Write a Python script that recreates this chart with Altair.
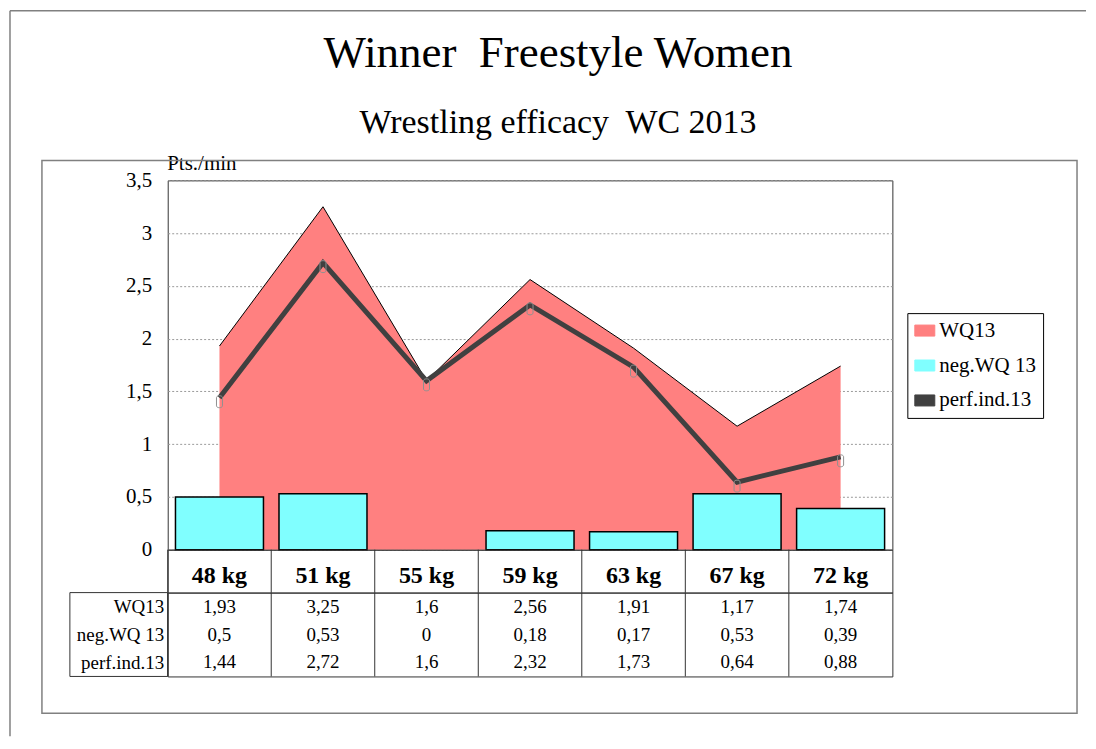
import altair as alt
import pandas as pd

# ---------------- data ----------------
categories = ["48 kg", "51 kg", "55 kg", "59 kg", "63 kg", "67 kg", "72 kg"]
wq13 = [1.93, 3.25, 1.6, 2.56, 1.91, 1.17, 1.74]
neg_wq13 = [0.5, 0.53, 0, 0.18, 0.17, 0.53, 0.39]
perf_ind13 = [1.44, 2.72, 1.6, 2.32, 1.73, 0.64, 0.88]
row_names = ["WQ13", "neg.WQ 13", "perf.ind.13"]
y_ticks = [0, 0.5, 1, 1.5, 2, 2.5, 3, 3.5]
series_colors = ["#FF8080", "#80FFFF", "#404040"]

FONT = "Liberation Serif"
LINE = "#333333"
W, H = 726, 370
HEAD_H, TAB_H = 43, 84

df = pd.DataFrame({"cat": categories, "wq": wq13, "neg": neg_wq13, "perf": perf_ind13})
table_df = pd.DataFrame({
    "row": [r for r in row_names for _ in categories],
    "cat": categories * 3,
    "value": wq13 + neg_wq13 + perf_ind13,
})
one = pd.DataFrame({"d": [0]})

xscale = alt.Scale(domain=categories, paddingInner=0, paddingOuter=0)
yscale = alt.Scale(domain=[0, 3.5], nice=False, zero=True)
color_scale = alt.Scale(domain=row_names, range=series_colors)

yaxis = alt.Axis(
    values=y_ticks,
    labelExpr="replace(toString(datum.value), '.', ',')",
    labelFont=FONT, labelFontSize=21, labelColor="black", labelPadding=16,
    ticks=False, domain=False,
    grid=True, gridColor="#9a9a9a", gridDash=[2, 2], gridWidth=1,
    titleAngle=0, titleAlign="left", titleBaseline="alphabetic",
    titleX=-1, titleY=-11, titleFont=FONT, titleFontSize=21,
    titleFontWeight="normal", titleColor="black",
)


def yenc(field):
    return alt.Y(field, type="quantitative", scale=yscale, axis=yaxis, title="Pts./min")


legend = alt.Legend(
    title=None, orient="none", legendX=741, legendY=133,
    labelFont=FONT, labelFontSize=21, labelColor="black", labelOffset=4,
    symbolType="M-1,-0.55H1V0.55H-1Z", symbolSize=400,
    symbolStrokeColor="black", symbolStrokeWidth=1, symbolOpacity=1,
    strokeColor="black", padding=7, rowPadding=13, fillColor="white",
)

color = alt.Color("series:N", scale=color_scale, legend=legend)
xenc = alt.X("cat:N", scale=xscale, sort=categories, axis=None)

# ---------------- decorations (frames) ----------------
outer_left = alt.Chart(one).mark_rule(color="#808080", strokeWidth=1.5).encode(
    x=alt.value(-158), x2=alt.value(-158), y=alt.value(-170), y2=alt.value(557))
outer_top = alt.Chart(one).mark_rule(color="#808080", strokeWidth=1.5).encode(
    x=alt.value(-158), x2=alt.value(920), y=alt.value(-170), y2=alt.value(-170))
inner_box = alt.Chart(one).mark_rect(fill="transparent", stroke="#808080", strokeWidth=1.5).encode(
    x=alt.value(-126), x2=alt.value(911), y=alt.value(-20), y2=alt.value(534))

# ---------------- main plot ----------------
base = alt.Chart(df).encode(x=xenc)

area = base.transform_calculate(series="'WQ13'").mark_area(opacity=1).encode(
    y=yenc("wq"), color=color)
area_outline = base.mark_line(color="black", strokeWidth=1).encode(y=yenc("wq"))
bars = base.transform_filter("datum.neg > 0").transform_calculate(series="'neg.WQ 13'").mark_bar(
    width=alt.RelativeBandSize(0.85), stroke="black", strokeWidth=1.5, opacity=1
).encode(y=yenc("neg"), color=color)
perf_line = base.transform_calculate(series="'perf.ind.13'").mark_line(strokeWidth=5).encode(
    y=yenc("perf"), color=color)
perf_pts = base.mark_point(
    shape="M-0.5,-0.7A0.5,0.3 0 0 1 0.5,-0.7V0.7A0.5,0.3 0 0 1 -0.5,0.7Z",
    size=144, filled=False, stroke="#909090", strokeWidth=1, opacity=1, yOffset=4
).encode(y=yenc("perf"))

main = alt.layer(
    outer_left, outer_top, inner_box, area, area_outline, bars, perf_line, perf_pts
).properties(width=W, height=H)

# ---------------- column separators (rules at band edges) ----------------
sep_x = alt.X("cat:N", scale=xscale, sort=categories, bandPosition=0, axis=None)
xcell = alt.X("cat:N", scale=xscale, sort=categories, axis=None)

header_sep = alt.Chart(df).mark_rule(color=LINE, strokeWidth=1).encode(x=sep_x)
header_text = alt.Chart(df).mark_text(
    font=FONT, fontSize=24, fontWeight="bold", color="black", dy=5
).encode(x=xcell, text="cat:N")
header = alt.layer(header_sep, header_text).properties(width=W, height=HEAD_H)

# ---------------- data table ----------------
label_box = alt.Chart(one).mark_rect(fill="transparent", stroke=LINE, strokeWidth=1).encode(
    x=alt.value(-98), x2=alt.value(0), y=alt.value(0), y2=alt.value(TAB_H))
table_sep = alt.Chart(df).mark_rule(color=LINE, strokeWidth=1).encode(x=sep_x)

table_text = alt.Chart(table_df).transform_calculate(
    label="replace(toString(datum.value), '.', ',')"
).mark_text(font=FONT, fontSize=19, color="black").encode(
    x=xcell,
    y=alt.Y("row:N", sort=row_names,
            scale=alt.Scale(domain=row_names, paddingInner=0, paddingOuter=0),
            axis=alt.Axis(labelFont=FONT, labelFontSize=19, labelColor="black",
                          labelPadding=4, ticks=False, domain=False, title=None)),
    text="label:N",
)

table = alt.layer(label_box, table_sep, table_text).properties(width=W, height=TAB_H)

chart = alt.vconcat(main, header, table, spacing=0, bounds="flush").properties(
    padding=0,
    title=alt.TitleParams(
        text="Winner\u00a0 Freestyle Women",
        subtitle="Wrestling efficacy\u00a0 WC 2013",
        font=FONT, fontSize=45, fontWeight="normal", color="black",
        subtitleFont=FONT, subtitleFontSize=34, subtitleColor="black",
        subtitlePadding=30, anchor="middle", offset=-131, dx=10,
    ),
).configure_view(stroke=LINE, strokeWidth=1)

chart.save("out.html", embed_options={"renderer": "svg", "actions": False})
